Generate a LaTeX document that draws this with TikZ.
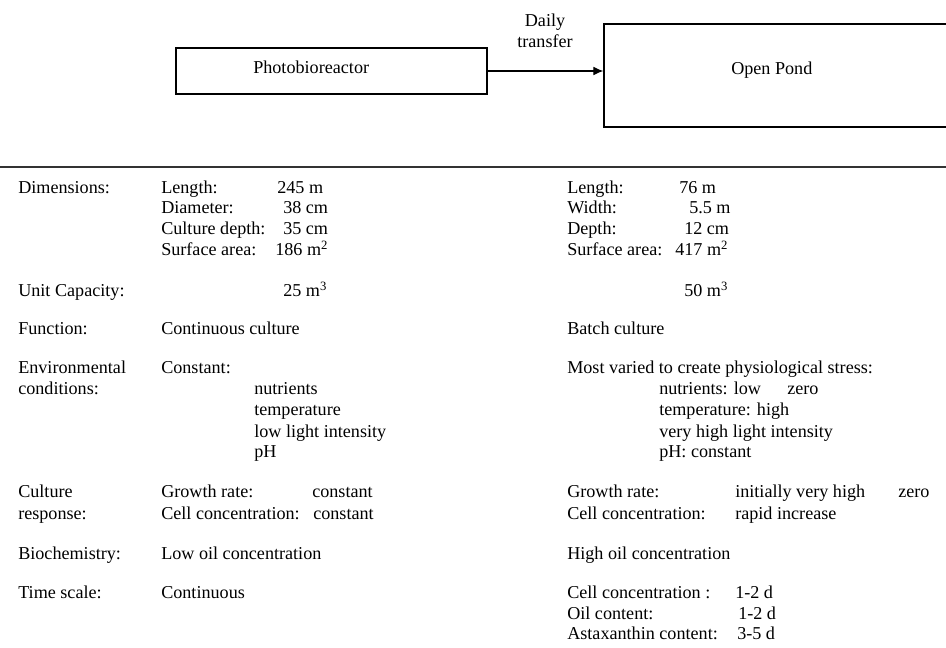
\documentclass[tikz,border=0pt]{standalone}
\usepackage{fontspec}
\setmainfont{Liberation Serif}
\usetikzlibrary{calc, arrows.meta}

\tikzset{
	box/.style = {draw, line width=0.9pt, inner sep=0pt},
	lbl/.style = {anchor=base west, inner sep=0pt, font=\fontsize{13.6}{16}\selectfont},
	mid/.style = {anchor=base, inner sep=0pt, font=\fontsize{13.6}{16}\selectfont},
}

\begin{document}
\begin{tikzpicture}[x=0.75pt, y=-0.75pt]
		\def\ca{18};
		\def\cb{161};
		\def\cc{567};
		\def\cd{659};
		\def\ce{735};

		\useasboundingbox (0,0) rectangle (946,648);

		\node [box, minimum width=233.25pt, minimum height=34.5pt] (pbr) at (331.5,71) {};
		\node [box, minimum width=261pt, minimum height=77.25pt] (pond) at (778,75.5) {};
		\node [lbl] (pbrname) at (253,74) {Photobioreactor};
		\node [lbl] (pondname) at (731,75) {Open Pond};

		\draw [-{Latex[length=7.5pt, width=6.5pt]}, line width=0.8pt] (pbr.east) -- (pbr.east -| pond.west);
		\node [mid] (daily) at (545,27) {Daily};
		\node [mid] (transfer) at (545,48) {transfer};

		\coordinate (ruleL) at (0,167);
		\coordinate (ruleR) at (946,167);
		\draw [line width=0.8pt, black!80] (ruleL) -- (ruleR);

		\node [lbl] (dim) at (\ca,194) {Dimensions:};
		\node [lbl] (cap) at (\ca,297) {Unit Capacity:};
		\node [lbl] (fun) at (\ca,335) {Function:};
		\node [lbl] (envA) at (\ca,374) {Environmental};
		\node [lbl] (envB) at (\ca,395) {conditions:};
		\node [lbl] (respA) at (\ca,497) {Culture};
		\node [lbl] (respB) at (\ca,519) {response:};
		\node [lbl] (bio) at (\ca,559) {Biochemistry:};
		\node [lbl] (time) at (\ca,598) {Time scale:};

		\begin{scope}
			\node [lbl] (pbrlen) at (\cb,194) {Length:};
			\node [lbl] (pbrdia) at (\cb,214) {Diameter:};
			\node [lbl] (pbrdep) at (\cb,235) {Culture depth:};
			\node [lbl] (pbrsur) at (\cb,256) {Surface area:};
			\node [lbl] (pbrlenv) at (277,194) {245 m};
			\node [lbl] (pbrdiav) at (283,214) {38 cm};
			\node [lbl] (pbrdepv) at (283,235) {35 cm};
			\node [lbl] (pbrsurv) at (275,256) {186 m\textsuperscript{2}};
			\node [lbl] (pbrcap) at (283,297) {25 m\textsuperscript{3}};
			\node [lbl] (pbrfun) at (\cb,335) {Continuous culture};
			\node [lbl] (pbrenv) at (\cb,374) {Constant:};
			\node [lbl] (pbrnut) at (254,395) {nutrients};
			\node [lbl] (pbrtem) at (254,416) {temperature};
			\node [lbl] (pbrlig) at (254,437) {low light intensity};
			\node [lbl] (pbrph) at (254,458) {pH};
			\node [lbl] (pbrgr) at (\cb,497) {Growth rate:};
			\node [lbl] (pbrgrv) at (312,497) {constant};
			\node [lbl] (pbrcc) at (\cb,519) {Cell concentration:};
			\node [lbl] (pbrccv) at (313,519) {constant};
			\node [lbl] (pbrbio) at (\cb,559) {Low oil concentration};
			\node [lbl] (pbrtime) at (\cb,598) {Continuous};
		\end{scope}

		\begin{scope}
			\node [lbl] (pondlen) at (\cc,194) {Length:};
			\node [lbl] (pondwid) at (\cc,214) {Width:};
			\node [lbl] (ponddep) at (\cc,235) {Depth:};
			\node [lbl] (pondsur) at (\cc,256) {Surface area:};
			\node [lbl] (pondlenv) at (679,194) {76 m};
			\node [lbl] (pondwidv) at (689,214) {5.5 m};
			\node [lbl] (ponddepv) at (684,235) {12 cm};
			\node [lbl] (pondsurv) at (675,256) {417 m\textsuperscript{2}};
			\node [lbl] (pondcap) at (684,297) {50 m\textsuperscript{3}};
			\node [lbl] (pondfun) at (\cc,335) {Batch culture};
			\node [lbl] (pondenv) at (\cc,374) {Most varied to create physiological stress:};
			\node [lbl] (pondnut) at (\cd,395) {nutrients: low};
			\node [lbl] (pondnutz) at (787,395) {zero};
			\node [lbl] (pondtem) at (\cd,416) {temperature: high};
			\node [lbl] (pondlig) at (\cd,437) {very high light intensity};
			\node [lbl] (pondph) at (\cd,458) {pH: constant};
			\node [lbl] (pondgr) at (\cc,497) {Growth rate:};
			\node [lbl] (pondgrv) at (\ce,497) {initially very high};
			\node [lbl] (pondgrz) at (898,497) {zero};
			\node [lbl] (pondcc) at (\cc,519) {Cell concentration:};
			\node [lbl] (pondccv) at (\ce,519) {rapid increase};
			\node [lbl] (pondbio) at (\cc,559) {High oil concentration};
			\node [lbl] (pondtc) at (\cc,598) {Cell concentration :};
			\node [lbl] (pondtcv) at (\ce,598) {1-2 d};
			\node [lbl] (pondto) at (\cc,619) {Oil content:};
			\node [lbl] (pondtov) at (738,619) {1-2 d};
			\node [lbl] (pondta) at (\cc,639) {Astaxanthin content:};
			\node [lbl] (pondtav) at (737,639) {3-5 d};
		\end{scope}
	\end{tikzpicture}
\end{document}
